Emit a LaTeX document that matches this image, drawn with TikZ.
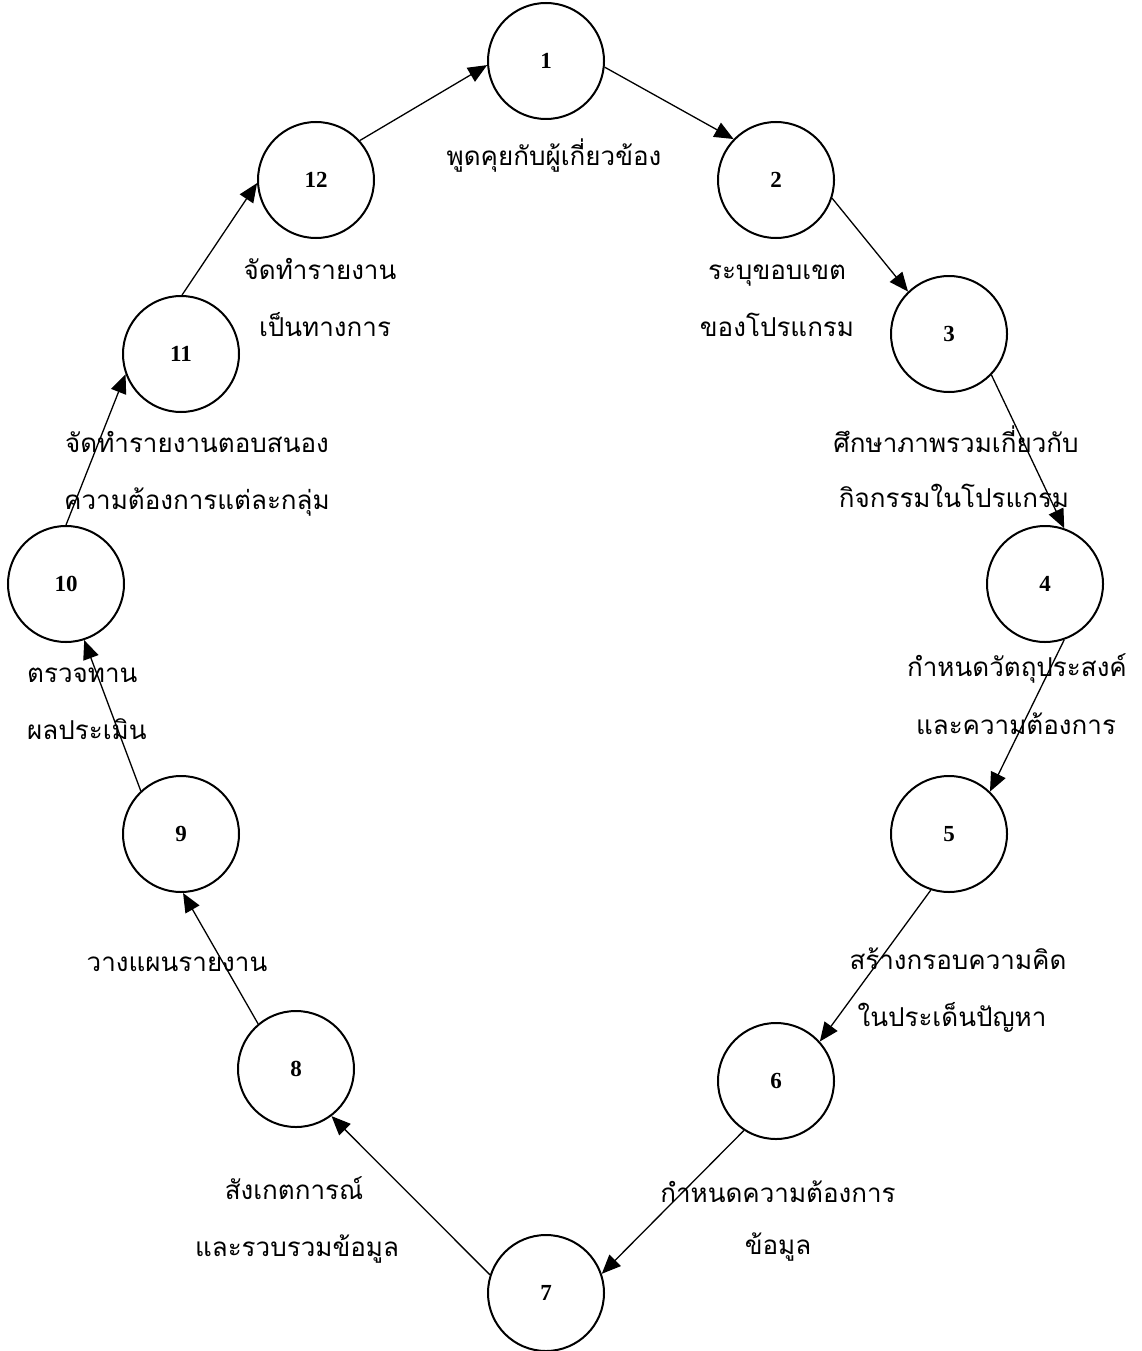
\documentclass[tikz,border=0pt]{standalone}
\usepackage{fontspec}
\setmainfont{Liberation Serif}
\newfontfamily\thaifont[Script=Thai]{Loma}
\usetikzlibrary{arrows.meta}
\tikzset{
  stepcircle/.style={circle,draw,line width=2pt,minimum size=116pt,inner sep=0pt,
    font=\fontsize{23}{25}\selectfont\bfseries},
  flow/.style={line width=1.3pt,-{Triangle[length=19pt,width=16pt]}},
  thlabel/.style={inner sep=0pt,anchor=base,font=\thaifont\fontsize{26}{28}\selectfont},
  thleft/.style={thlabel,anchor=base west}
}
\begin{document}
\begin{tikzpicture}[x=1pt,y=-1pt]
\useasboundingbox (0,0) rectangle (1141,1351);
\node[stepcircle] (n1) at (546,61) {1};
\node[stepcircle] (n2) at (776,180) {2};
\node[stepcircle] (n3) at (949,334) {3};
\node[stepcircle] (n4) at (1045,584) {4};
\node[stepcircle] (n5) at (949,834) {5};
\node[stepcircle] (n6) at (776,1081) {6};
\node[stepcircle] (n7) at (546,1293) {7};
\node[stepcircle] (n8) at (296,1069) {8};
\node[stepcircle] (n9) at (181,834) {9};
\node[stepcircle] (n10) at (66,584) {10};
\node[stepcircle] (n11) at (181,354) {11};
\node[stepcircle] (n12) at (316,180) {12};

\draw[flow] (n1.-6) -- (n2.136);
\draw[flow] (n2.-18) -- (n3.134);
\draw[flow] (n3.-44) -- (n4.71);
\draw[flow] (n4.-71) -- (n5.46);
\draw[flow] (n5.-108) -- (n6.42);
\draw[flow] (n6.-123) -- (n7.19);
\draw[flow] (n7.162) -- (n8.-53);
\draw[flow] (n8.130) -- (n9.-88);
\draw[flow] (n9.133) -- (n10.-72);
\draw[flow] (n10.90) -- (n11.200);
\draw[flow] (n11.89) -- (n12.183);
\draw[flow] (n12.42) -- (n1.184);

\node[thlabel] (t1) at (554,166) {พูดคุยกับผู้เกี่ยวข้อง};
\node[thlabel] (t2a) at (777,279) {ระบุขอบเขต};
\node[thlabel] (t2b) at (777,336) {ของโปรแกรม};
\node[thlabel] (t3a) at (956,452) {ศึกษาภาพรวมเกี่ยวกับ};
\node[thlabel] (t3b) at (954,507) {กิจกรรมในโปรแกรม};
\node[thlabel] (t4a) at (1017,676) {กำหนดวัตถุประสงค์};
\node[thlabel] (t4b) at (1016,734) {และความต้องการ};
\node[thlabel] (t5a) at (958,969) {สร้างกรอบความคิด};
\node[thlabel] (t5b) at (952,1026) {ในประเด็นปัญหา};
\node[thlabel] (t6a) at (778,1202) {กำหนดความต้องการ};
\node[thlabel] (t6b) at (778,1254) {ข้อมูล};
\node[thlabel] (t7a) at (294,1199) {สังเกตการณ์};
\node[thlabel] (t7b) at (297,1256) {และรวบรวมข้อมูล};
\node[thlabel] (t8) at (177,971) {วางแผนรายงาน};
\node[thleft] (t9a) at (27,682) {ตรวจทาน};
\node[thleft] (t9b) at (27,739) {ผลประเมิน};
\node[thlabel] (t10a) at (197,452) {จัดทำรายงานตอบสนอง};
\node[thlabel] (t10b) at (197,509) {ความต้องการแต่ละกลุ่ม};
\node[thlabel] (t11a) at (320,279) {จัดทำรายงาน};
\node[thlabel] (t11b) at (325,336) {เป็นทางการ};
\end{tikzpicture}
\end{document}
